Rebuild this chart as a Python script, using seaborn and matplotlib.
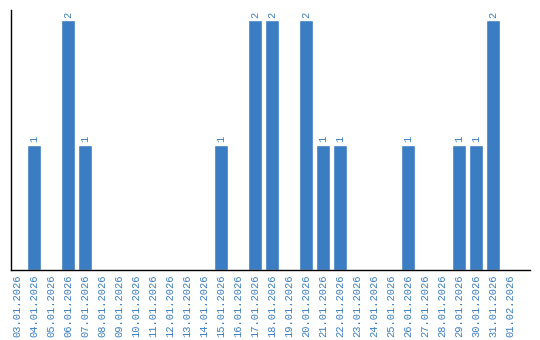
import matplotlib
matplotlib.use("Agg")
import matplotlib.pyplot as plt
import seaborn as sns
import pandas as pd

dates = ["03.01.2026", "04.01.2026", "05.01.2026", "06.01.2026", "07.01.2026",
         "08.01.2026", "09.01.2026", "10.01.2026", "11.01.2026", "12.01.2026",
         "13.01.2026", "14.01.2026", "15.01.2026", "16.01.2026", "17.01.2026",
         "18.01.2026", "19.01.2026", "20.01.2026", "21.01.2026", "22.01.2026",
         "23.01.2026", "24.01.2026", "25.01.2026", "26.01.2026", "27.01.2026",
         "28.01.2026", "29.01.2026", "30.01.2026", "31.01.2026", "01.02.2026"]
counts = [0, 1, 0, 2, 1, 0, 0, 0, 0, 0, 0, 0, 1, 0, 2, 2, 0, 2, 1, 1,
          0, 0, 0, 1, 0, 0, 1, 1, 2, 0]

BLUE = "#3a7dc2"
sns.set_style("white")
plt.rcParams["font.family"] = ["Liberation Mono", "DejaVu Sans Mono"]

df = pd.DataFrame({"date": dates, "count": counts})
fig = plt.figure(figsize=(5.4, 3.4), dpi=100)
ax = fig.add_axes([11/540, 1 - 270/340, 519/540, 260/340])
sns.barplot(data=df, x="date", y="count", color=BLUE, saturation=1,
            width=0.82, ax=ax, order=dates)
for i, v in enumerate(counts):
    if v > 0:
        ax.text(i, v + 0.02, str(v), rotation=90, ha="center", va="bottom",
                color=BLUE, fontsize=7.5)
ax.set_xlim(-0.35, 30.18)
ax.set_ylim(0, 2.08)
ax.set_yticks([])
ax.set_xlabel("")
ax.set_ylabel("")
ax.tick_params(axis="x", length=0, pad=3, labelsize=7.5, labelcolor=BLUE)
plt.setp(ax.get_xticklabels(), rotation=90)
for s in ["top", "right"]:
    ax.spines[s].set_visible(False)
for s in ["left", "bottom"]:
    ax.spines[s].set_color("black")
    ax.spines[s].set_linewidth(1)
fig.savefig("out.png", dpi=100)
